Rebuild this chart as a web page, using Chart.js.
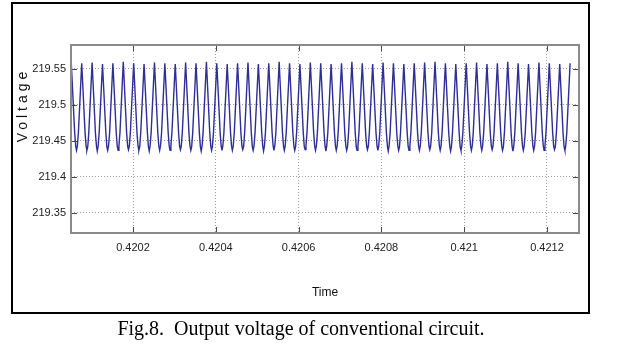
<!DOCTYPE html>
<html>
<head>
<meta charset="utf-8">
<script src="https://cdn.jsdelivr.net/npm/chart.js@4/dist/chart.umd.min.js"></script>
<style>
  html, body { margin: 0; padding: 0; background: #ffffff; }
  #wrap { position: relative; width: 618px; height: 355px; overflow: hidden; }
  #c { position: absolute; left: 0; top: 0; }
  #caption {
    position: absolute; left: 0; top: 318px; width: 602px;
    text-align: center; white-space: pre;
    font-family: "Liberation Serif", "Times New Roman", serif;
    font-size: 20px; line-height: 20px; color: #000;
  }
</style>
</head>
<body>
<div id="wrap">
  <canvas id="c" width="618" height="355"></canvas>
  <div id="caption">Fig.8.  Output voltage of conventional circuit.</div>
</div>
<script>
// ---- data ----
const xTickValues = [0.4202, 0.4204, 0.4206, 0.4208, 0.4210, 0.4212];
const xTickLabels = ['0.4202', '0.4204', '0.4206', '0.4208', '0.421', '0.4212'];
const yTickValues = [219.35, 219.40, 219.45, 219.50, 219.55];
const yTickLabels = ['219.35', '219.4', '219.45', '219.5', '219.55'];
const xRange = [0.4200502, 0.4212773];
const yRange = [219.3222, 219.5833];

// sample times (s) of the output-voltage waveform (one row per ripple cycle)
const sampleTimes = [
  0.4200430,
  0.4200510, 0.4200590, 0.4200615, 0.4200635, 0.4200656, 0.4200681,
  0.4200761, 0.4200841, 0.4200866, 0.4200886, 0.4200907, 0.4200932,
  0.4201012, 0.4201092, 0.4201117, 0.4201137, 0.4201158, 0.4201183,
  0.4201263, 0.4201343, 0.4201368, 0.4201388, 0.4201409, 0.4201434,
  0.4201514, 0.4201594, 0.4201619, 0.4201639, 0.4201660, 0.4201685,
  0.4201765, 0.4201845, 0.4201870, 0.4201890, 0.4201911, 0.4201936,
  0.4202016, 0.4202096, 0.4202121, 0.4202141, 0.4202162, 0.4202187,
  0.4202267, 0.4202347, 0.4202372, 0.4202392, 0.4202413, 0.4202438,
  0.4202518, 0.4202598, 0.4202623, 0.4202643, 0.4202664, 0.4202689,
  0.4202769, 0.4202849, 0.4202874, 0.4202894, 0.4202915, 0.4202940,
  0.4203020, 0.4203100, 0.4203125, 0.4203145, 0.4203166, 0.4203191,
  0.4203271, 0.4203351, 0.4203376, 0.4203396, 0.4203417, 0.4203442,
  0.4203522, 0.4203602, 0.4203627, 0.4203647, 0.4203668, 0.4203693,
  0.4203773, 0.4203853, 0.4203878, 0.4203898, 0.4203919, 0.4203944,
  0.4204024, 0.4204104, 0.4204129, 0.4204149, 0.4204170, 0.4204195,
  0.4204275, 0.4204355, 0.4204380, 0.4204400, 0.4204421, 0.4204446,
  0.4204526, 0.4204606, 0.4204631, 0.4204651, 0.4204672, 0.4204697,
  0.4204777, 0.4204857, 0.4204882, 0.4204902, 0.4204923, 0.4204948,
  0.4205028, 0.4205108, 0.4205133, 0.4205153, 0.4205174, 0.4205199,
  0.4205279, 0.4205359, 0.4205384, 0.4205404, 0.4205425, 0.4205450,
  0.4205530, 0.4205610, 0.4205635, 0.4205655, 0.4205676, 0.4205701,
  0.4205781, 0.4205861, 0.4205886, 0.4205906, 0.4205927, 0.4205952,
  0.4206032, 0.4206112, 0.4206137, 0.4206157, 0.4206178, 0.4206203,
  0.4206283, 0.4206363, 0.4206388, 0.4206408, 0.4206429, 0.4206454,
  0.4206534, 0.4206614, 0.4206639, 0.4206659, 0.4206680, 0.4206705,
  0.4206785, 0.4206865, 0.4206890, 0.4206910, 0.4206931, 0.4206956,
  0.4207036, 0.4207116, 0.4207141, 0.4207161, 0.4207182, 0.4207207,
  0.4207287, 0.4207367, 0.4207392, 0.4207412, 0.4207433, 0.4207458,
  0.4207538, 0.4207618, 0.4207643, 0.4207663, 0.4207684, 0.4207709,
  0.4207789, 0.4207869, 0.4207894, 0.4207914, 0.4207935, 0.4207960,
  0.4208040, 0.4208120, 0.4208145, 0.4208165, 0.4208186, 0.4208211,
  0.4208291, 0.4208371, 0.4208396, 0.4208416, 0.4208437, 0.4208462,
  0.4208542, 0.4208622, 0.4208647, 0.4208667, 0.4208688, 0.4208713,
  0.4208793, 0.4208873, 0.4208898, 0.4208918, 0.4208939, 0.4208964,
  0.4209044, 0.4209124, 0.4209149, 0.4209169, 0.4209190, 0.4209215,
  0.4209295, 0.4209375, 0.4209400, 0.4209420, 0.4209441, 0.4209466,
  0.4209546, 0.4209626, 0.4209651, 0.4209671, 0.4209692, 0.4209717,
  0.4209797, 0.4209877, 0.4209902, 0.4209922, 0.4209943, 0.4209968,
  0.4210048, 0.4210128, 0.4210153, 0.4210173, 0.4210194, 0.4210219,
  0.4210299, 0.4210379, 0.4210404, 0.4210424, 0.4210445, 0.4210470,
  0.4210550, 0.4210630, 0.4210655, 0.4210675, 0.4210696, 0.4210721,
  0.4210801, 0.4210881, 0.4210906, 0.4210926, 0.4210947, 0.4210972,
  0.4211052, 0.4211132, 0.4211157, 0.4211177, 0.4211198, 0.4211223,
  0.4211303, 0.4211383, 0.4211408, 0.4211428, 0.4211449, 0.4211474,
  0.4211554, 0.4211634, 0.4211659, 0.4211679, 0.4211700, 0.4211725,
  0.4211805, 0.4211885, 0.4211910, 0.4211930, 0.4211951, 0.4211976,
  0.4212056, 0.4212136, 0.4212161, 0.4212181, 0.4212202, 0.4212227,
  0.4212307, 0.4212387, 0.4212412, 0.4212432, 0.4212453, 0.4212478,
  0.4212558, 0.4212638, 0.4212663, 0.4212683, 0.4212704, 0.4212729,
  0.4212809
];

// output voltage (V) at those times
const sampleVoltages = [
  219.462,
  219.557, 219.462, 219.443, 219.437, 219.443, 219.462,
  219.558, 219.462, 219.443, 219.437, 219.442, 219.462,
  219.559, 219.461, 219.443, 219.436, 219.443, 219.462,
  219.557, 219.462, 219.442, 219.437, 219.443, 219.461,
  219.558, 219.462, 219.443, 219.437, 219.443, 219.462,
  219.560, 219.462, 219.443, 219.438, 219.443, 219.462,
  219.558, 219.461, 219.443, 219.437, 219.442, 219.462,
  219.557, 219.462, 219.442, 219.436, 219.443, 219.462,
  219.559, 219.462, 219.443, 219.437, 219.443, 219.461,
  219.558, 219.462, 219.443, 219.437, 219.443, 219.462,
  219.557, 219.462, 219.443, 219.438, 219.443, 219.462,
  219.559, 219.461, 219.443, 219.437, 219.442, 219.462,
  219.558, 219.462, 219.442, 219.436, 219.443, 219.462,
  219.560, 219.462, 219.443, 219.437, 219.443, 219.462,
  219.558, 219.462, 219.443, 219.437, 219.443, 219.461,
  219.557, 219.462, 219.443, 219.437, 219.443, 219.462,
  219.558, 219.461, 219.443, 219.438, 219.442, 219.462,
  219.559, 219.462, 219.442, 219.437, 219.443, 219.462,
  219.557, 219.462, 219.443, 219.436, 219.443, 219.462,
  219.558, 219.462, 219.443, 219.437, 219.443, 219.461,
  219.560, 219.462, 219.443, 219.437, 219.443, 219.462,
  219.558, 219.461, 219.443, 219.437, 219.442, 219.462,
  219.557, 219.462, 219.442, 219.438, 219.443, 219.462,
  219.559, 219.462, 219.443, 219.437, 219.443, 219.462,
  219.558, 219.462, 219.443, 219.436, 219.443, 219.461,
  219.557, 219.462, 219.443, 219.437, 219.443, 219.462,
  219.558, 219.461, 219.443, 219.437, 219.442, 219.462,
  219.560, 219.462, 219.442, 219.437, 219.443, 219.462,
  219.558, 219.462, 219.443, 219.438, 219.443, 219.462,
  219.557, 219.462, 219.443, 219.437, 219.443, 219.461,
  219.559, 219.462, 219.443, 219.436, 219.443, 219.462,
  219.558, 219.461, 219.443, 219.437, 219.442, 219.462,
  219.557, 219.462, 219.442, 219.437, 219.443, 219.462,
  219.558, 219.462, 219.443, 219.437, 219.443, 219.462,
  219.559, 219.462, 219.443, 219.438, 219.443, 219.461,
  219.560, 219.462, 219.443, 219.437, 219.443, 219.462,
  219.558, 219.461, 219.443, 219.436, 219.442, 219.462,
  219.557, 219.462, 219.442, 219.437, 219.443, 219.462,
  219.558, 219.462, 219.443, 219.437, 219.443, 219.462,
  219.559, 219.462, 219.443, 219.437, 219.443, 219.461,
  219.557, 219.461, 219.443, 219.438, 219.443, 219.462,
  219.558, 219.462, 219.443, 219.437, 219.442, 219.462,
  219.560, 219.462, 219.442, 219.436, 219.443, 219.462,
  219.558, 219.462, 219.443, 219.437, 219.443, 219.461,
  219.557, 219.461, 219.443, 219.437, 219.443, 219.462,
  219.559, 219.462, 219.443, 219.437, 219.443, 219.462,
  219.558, 219.462, 219.443, 219.438, 219.442, 219.462,
  219.557, 219.462, 219.442, 219.437, 219.443, 219.462,
  219.558
];

const points = sampleTimes.map((t, i) => ({ x: t, y: sampleVoltages[i] }));

const SANS = '"Liberation Sans", Arial, Helvetica, sans-serif';
function hasFont(name) {
  const c = document.createElement('canvas').getContext('2d');
  const probe = '0.4202 219.55 Time Voltage';
  c.font = '20px monospace';
  const w0 = c.measureText(probe).width;
  c.font = '20px "' + name + '", monospace';
  return Math.abs(c.measureText(probe).width - w0) > 0.5;
}
const NARROW = hasFont('Liberation Sans Narrow');
const tickFont = NARROW ? { family: '"Liberation Sans Narrow", ' + SANS, size: 13 }
                        : { family: SANS, size: 11 };
const timeFont = NARROW ? { family: '"Liberation Sans Narrow", ' + SANS, size: 14 }
                        : { family: SANS, size: 12 };

const framePlugin = {
  id: 'framePlugin',
  afterDatasetsDraw(chart) {
    const { ctx, chartArea: a, scales: { x, y } } = chart;
    ctx.save();
    ctx.strokeStyle = '#4a4a4a';
    ctx.lineWidth = 1;
    ctx.beginPath();
    xTickValues.forEach(v => {
      const px = Math.round(x.getPixelForValue(v)) + 0.5;
      ctx.moveTo(px, a.bottom); ctx.lineTo(px, a.bottom - 6);
      ctx.moveTo(px, a.top); ctx.lineTo(px, a.top + 6);
    });
    yTickValues.forEach(v => {
      const py = Math.round(y.getPixelForValue(v)) + 0.5;
      ctx.moveTo(a.left, py); ctx.lineTo(a.left + 6, py);
      ctx.moveTo(a.right, py); ctx.lineTo(a.right - 6, py);
    });
    ctx.stroke();
    ctx.strokeStyle = '#8a8a8a';
    ctx.lineWidth = 2;
    ctx.strokeRect(a.left, a.top, a.right - a.left, a.bottom - a.top);
    ctx.restore();
  },
  afterDraw(chart) {
    const { ctx } = chart;
    ctx.save();
    ctx.strokeStyle = '#000';
    ctx.lineWidth = 2;
    ctx.strokeRect(12, 3, 577, 310);
    ctx.translate(23, 107);
    ctx.rotate(-Math.PI / 2);
    ctx.font = '14px ' + SANS;
    ctx.fillStyle = '#111';
    ctx.textAlign = 'center';
    ctx.textBaseline = 'middle';
    if ('letterSpacing' in ctx) {
      ctx.letterSpacing = '4px';
      ctx.fillText('Voltage', 2, 0);
    } else {
      ctx.scale(1.55, 1);
      ctx.fillText('Voltage', 0, 0);
    }
    ctx.restore();
  }
};

new Chart(document.getElementById('c'), {
  type: 'line',
  data: {
    datasets: [{
      data: points,
      borderColor: '#2e2e98',
      borderWidth: 1.4,
      pointRadius: 0,
      tension: 0,
      fill: false,
      clip: 0
    }]
  },
  options: {
    responsive: false,
    animation: false,
    layout: { padding: { left: 12, right: 39, top: 45, bottom: 55 } },
    plugins: { legend: { display: false }, tooltip: { enabled: false }, title: { display: false } },
    scales: {
      x: {
        type: 'linear',
        min: xRange[0],
        max: xRange[1],
        afterBuildTicks: s => { s.ticks = xTickValues.map(v => ({ value: v })); },
        afterFit: s => { s.height = 67; },
        ticks: {
          autoSkip: false, maxRotation: 0, minRotation: 0, padding: 8,
          color: '#222', font: tickFont,
          callback: (v, i) => xTickLabels[i]
        },
        grid: { color: '#9c9c9c', lineWidth: 1, drawTicks: false },
        border: { display: false, dash: [1, 2] },
        title: {
          display: true, text: 'Time', color: '#111',
          font: timeFont, padding: { top: 0, bottom: 0 }
        }
      },
      y: {
        type: 'linear',
        min: yRange[0],
        max: yRange[1],
        afterBuildTicks: s => { s.ticks = yTickValues.map(v => ({ value: v })); },
        afterFit: s => { s.width = 59; },
        ticks: {
          padding: 5, color: '#222', font: tickFont,
          callback: (v, i) => yTickLabels[i]
        },
        grid: { color: '#9c9c9c', lineWidth: 1, drawTicks: false },
        border: { display: false, dash: [1, 2] }
      }
    }
  },
  plugins: [framePlugin]
});
</script>
</body>
</html>
